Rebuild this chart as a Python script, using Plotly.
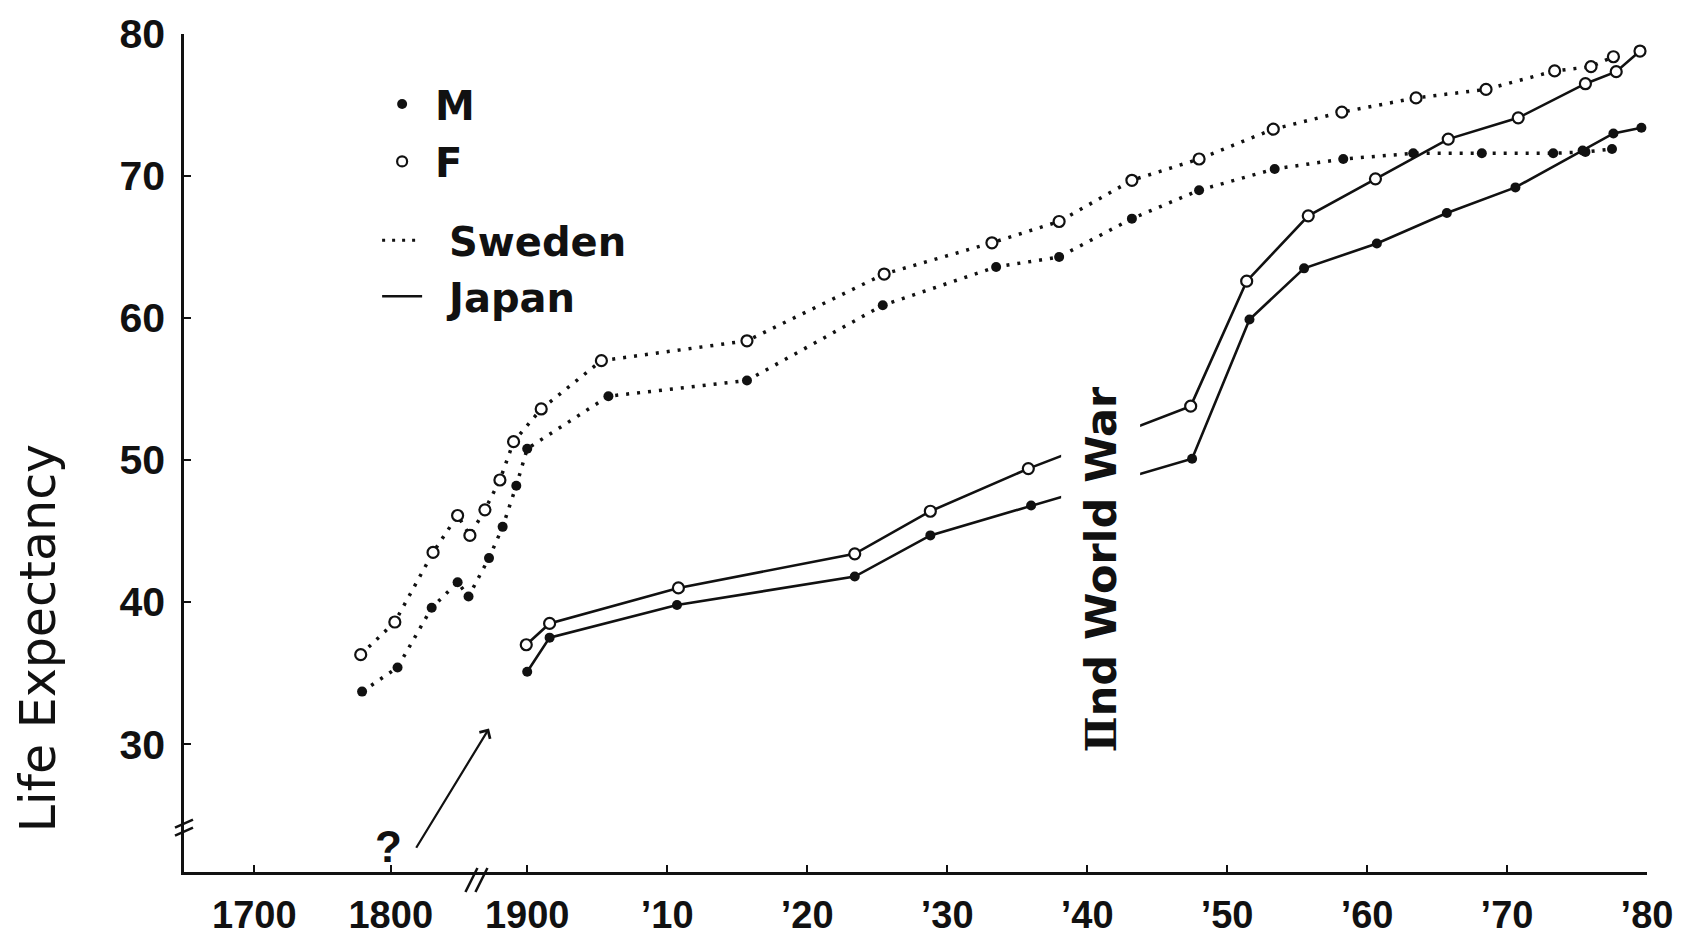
import plotly.graph_objects as go

# ---------------- data ----------------
sweden_years_m = [1779, 1805, 1830, 1849, 1857, 1872, 1882, 1892, 1900,
                  1905.8, 1915.7, 1925.4, 1933.5, 1938, 1943.2, 1948, 1953.4,
                  1958.3, 1963.3, 1968.2, 1973.3, 1975.6, 1977.5]
sweden_m = [33.7, 35.4, 39.6, 41.4, 40.4, 43.1, 45.3, 48.2, 50.8,
            54.5, 55.6, 60.9, 63.6, 64.3, 67.0, 69.0, 70.5,
            71.2, 71.6, 71.6, 71.6, 71.7, 71.9]

sweden_years_f = [1778, 1803, 1831, 1849, 1858, 1869, 1880, 1890, 1901,
                  1905.3, 1915.7, 1925.5, 1933.2, 1938, 1943.2, 1948, 1953.3,
                  1958.2, 1963.5, 1968.5, 1973.4, 1976, 1977.6]
sweden_f = [36.3, 38.6, 43.5, 46.1, 44.7, 46.5, 48.6, 51.3, 53.6,
            57.0, 58.4, 63.1, 65.3, 66.8, 69.7, 71.2, 73.3,
            74.5, 75.5, 76.1, 77.4, 77.7, 78.4]

japan_years_m = [1900, 1901.6, 1910.7, 1923.4, 1928.8, 1936, 1947.5, 1951.6,
                 1955.5, 1960.7, 1965.7, 1970.6, 1975.4, 1977.6, 1979.6]
japan_m = [35.1, 37.5, 39.8, 41.8, 44.7, 46.8, 50.1, 59.9,
           63.5, 65.25, 67.4, 69.2, 71.8, 73.0, 73.4]

japan_years_f = [1899.3, 1901.6, 1910.8, 1923.4, 1928.8, 1935.8, 1947.4, 1951.4,
                 1955.8, 1960.6, 1965.8, 1970.8, 1975.6, 1977.8, 1979.5]
japan_f = [37.0, 38.5, 41.0, 43.4, 46.4, 49.4, 53.8, 62.6,
           67.2, 69.8, 72.6, 74.1, 76.5, 77.35, 78.8]

tick_years = [1700, 1800, 1900, 1910, 1920, 1930, 1940, 1950, 1960, 1970, 1980]
tick_labels = ["1700", "1800", "1900", "\u201910", "\u201920", "\u201930",
               "\u201940", "\u201950", "\u201960", "\u201970", "\u201980"]
y_ticks = [30, 40, 50, 60, 70, 80]


# broken time axis: one step per century before 1900, one step per decade after
def axis_pos(year):
    if year >= 1900:
        return 2 + (year - 1900) / 10.0
    return 2 - (1900 - year) * 0.00975


def to_pos(years):
    return [axis_pos(y) for y in years]


INK = "#111111"
dotted = "3px,8px"

fig = go.Figure()

fig.add_trace(go.Scatter(
    x=to_pos(sweden_years_m), y=sweden_m, mode="lines+markers",
    line=dict(color=INK, width=3.5, dash=dotted),
    marker=dict(symbol="circle", size=10, color=INK),
    showlegend=False, hoverinfo="skip"))
fig.add_trace(go.Scatter(
    x=to_pos(sweden_years_f), y=sweden_f, mode="lines+markers",
    line=dict(color=INK, width=3.5, dash=dotted),
    marker=dict(symbol="circle", size=11, color="white", line=dict(color=INK, width=2.2)),
    showlegend=False, hoverinfo="skip"))
fig.add_trace(go.Scatter(
    x=to_pos(japan_years_m), y=japan_m, mode="lines+markers",
    line=dict(color=INK, width=2.6),
    marker=dict(symbol="circle", size=10, color=INK),
    showlegend=False, hoverinfo="skip"))
fig.add_trace(go.Scatter(
    x=to_pos(japan_years_f), y=japan_f, mode="lines+markers",
    line=dict(color=INK, width=2.6),
    marker=dict(symbol="circle", size=11, color="white", line=dict(color=INK, width=2.2)),
    showlegend=False, hoverinfo="skip"))

# legend entries (each in its own legend box, to reproduce the spacing)
fig.add_trace(go.Scatter(x=[None], y=[None], mode="markers", name="\u2009M",
                         marker=dict(symbol="circle", size=10, color=INK),
                         legend="legend"))
fig.add_trace(go.Scatter(x=[None], y=[None], mode="markers", name="\u2009F",
                         marker=dict(symbol="circle", size=10, color="white",
                                     line=dict(color=INK, width=2.2)),
                         legend="legend2"))
fig.add_trace(go.Scatter(x=[None], y=[None], mode="lines", name="\u00a0\u2009Sweden",
                         line=dict(color=INK, width=3, dash="3px,7px"),
                         legend="legend3"))
fig.add_trace(go.Scatter(x=[None], y=[None], mode="lines", name="\u00a0\u2009Japan",
                         line=dict(color=INK, width=2.6),
                         legend="legend4"))

legend_font = dict(family="DejaVu Sans", size=40, color=INK, weight="bold")


def leg(y, x=0.132):
    return dict(x=x, y=y, xanchor="left", yanchor="middle", font=legend_font,
                bgcolor="rgba(0,0,0,0)", borderwidth=0, itemwidth=40)


# the page body adds an 8 px offset; the size and margins below absorb it
fig.update_layout(
    template="none",
    width=1676, height=930,
    paper_bgcolor="white", plot_bgcolor="white",
    margin=dict(l=176, r=37, t=26, b=66, autoexpand=False),
    font=dict(family="Liberation Sans", color=INK),
    legend=leg(0.9165), legend2=leg(0.848), legend3=leg(0.754), legend4=leg(0.687),
    xaxis=dict(
        range=[-0.452, 10.0], tickmode="array",
        tickvals=to_pos(tick_years), ticktext=tick_labels,
        ticks="inside", ticklen=7, tickwidth=2, tickcolor=INK,
        showline=True, linewidth=2.5, linecolor=INK,
        showgrid=False, zeroline=False, ticklabelstandoff=8,
        automargin=False,
        tickfont=dict(family="Liberation Sans", size=38,
                      weight="bold", color=INK),
    ),
    yaxis=dict(
        range=[21, 80], tickmode="array", tickvals=y_ticks,
        ticks="inside", ticklen=7, tickwidth=2, tickcolor=INK,
        showline=True, linewidth=2.5, linecolor=INK,
        showgrid=False, zeroline=False, ticklabelstandoff=8,
        tickfont=dict(family="Liberation Sans", size=41, weight="bold", color=INK),
        automargin=False,
    ),
)

# y-axis title (placed low, as in the original figure)
fig.add_annotation(x=-0.0998, y=0.279, xref="paper", yref="paper",
                   text="Life Expectancy", textangle=-90, showarrow=False,
                   xanchor="center", yanchor="middle",
                   font=dict(family="DejaVu Sans", size=49, color=INK))

# War label (white box interrupts the Japanese curves)
fig.add_annotation(
    x=axis_pos(1941.0), y=42.3, xref="x", yref="y",
    text='<span style="font-family:DejaVu Serif">\u2161</span>nd World War',
    textangle=-90, showarrow=False, bgcolor="white", borderpad=14,
    font=dict(family="DejaVu Sans", size=43, weight="bold", color=INK))

# question mark and arrow
fig.add_annotation(x=axis_pos(1798), y=22.8, xref="x", yref="y", text="?",
                   showarrow=False,
                   font=dict(family="Liberation Sans", size=44, weight="bold", color=INK))
fig.add_annotation(x=axis_pos(1872), y=31.1, xref="x", yref="y",
                   ax=axis_pos(1818), ay=22.6, axref="x", ayref="y",
                   text="", showarrow=True, arrowhead=4, arrowsize=1.1,
                   arrowwidth=2.2, arrowcolor=INK)

# axis break marks
brk = dict(type="line", line=dict(color=INK, width=2.5))
for dx in (-8, 2):
    fig.add_shape(**brk, xref="x", yref="paper", xsizemode="pixel", ysizemode="pixel",
                  xanchor=axis_pos(1865), yanchor=0,
                  x0=dx - 6, y0=-20, x1=dx + 6, y1=4)
for dy in (-5, 3):
    fig.add_shape(**brk, xref="paper", yref="y", xsizemode="pixel", ysizemode="pixel",
                  xanchor=0, yanchor=24.2,
                  x0=-9, y0=dy - 4, x1=9, y1=dy + 4)

fig.write_html("out.html")
